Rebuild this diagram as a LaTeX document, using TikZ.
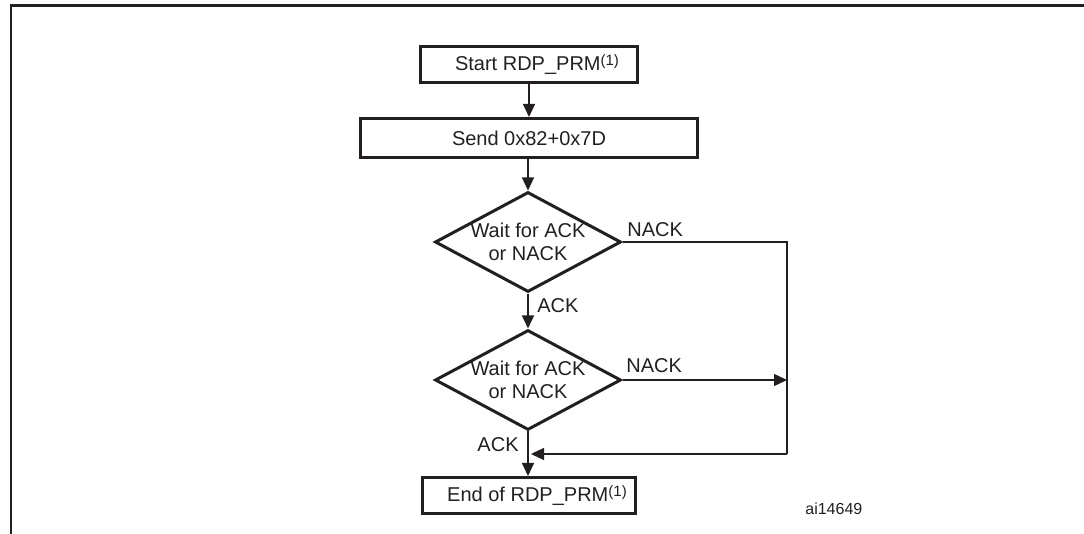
\documentclass[tikz,border=0pt]{standalone}
\usepackage{fontspec}
\setmainfont{Liberation Sans}
\usetikzlibrary{arrows.meta,shapes.geometric}
\definecolor{ink}{RGB}{35,31,32}
\newcommand{\supone}{\raisebox{2.8pt}{\fontsize{7.5pt}{9pt}\selectfont(1)}}
\tikzset{
  px/.style={x=0.5pt,y=-0.5pt},
  boxnode/.style={draw=ink,line width=1.5pt,inner sep=0pt,font=\fontsize{10pt}{12pt}\selectfont,text=ink},
  dia/.style={draw=ink,line width=1.5pt,shape=diamond,inner sep=0pt,minimum width=93pt,minimum height=50pt},
  diatext/.style={align=center,inner sep=0pt,font=\fontsize{10pt}{11.5pt}\selectfont,text=ink},
  lbl/.style={inner sep=0pt,font=\fontsize{10pt}{12pt}\selectfont,text=ink},
  conn/.style={draw=ink,line width=0.65pt},
  arr/.style={conn,-{Triangle[length=6.5pt,width=6pt]}},
}
\begin{document}
\begin{tikzpicture}[px]
\useasboundingbox (0,0) rectangle (1084,534);
% frame
\draw[ink,line width=1.1pt] (11,534) -- (11,5.5) -- (1084,5.5);
% nodes
\node[boxnode,minimum width=108.5pt,minimum height=18pt] (start) at (529,64.5) {\hspace*{8pt}Start RDP\_PRM\supone};
\node[boxnode,minimum width=168.5pt,minimum height=19.5pt] (send) at (529,138) {Send 0x82+0x7D};
\node[dia] (d1) at (528,242) {};
\node[diatext] (t1) at (d1) {Wait for ACK\\or NACK};
\node[dia] (d2) at (528,380) {};
\node[diatext] (t2) at (d2) {Wait for ACK\\or NACK};
\node[boxnode,minimum width=106.5pt,minimum height=18pt] (end) at (529,495.5) {\hspace*{8pt}End of RDP\_PRM\supone};
\coordinate (r1) at (787,242);
\coordinate (r2) at (787,454);
\coordinate (j) at (531,454);
% labels
\node[lbl,anchor=west] (n1) at (627,230) {NACK};
\node[lbl,anchor=west] (a1) at (537,306) {ACK};
\node[lbl,anchor=west] (n2) at (626,366) {NACK};
\node[lbl,anchor=east] (a2) at (519,445) {ACK};
\node[lbl,anchor=west,font=\fontsize{8pt}{10pt}\selectfont] (id) at (805,509) {ai14649};
% connectors
\draw[arr] (start) -- (send);
\draw[arr] (send.south -| d1) -- (d1);
\draw[arr] (d1) -- (d2);
\draw[arr] (d2) -- (end.north -| d2);
\draw[conn] (d1.east) -- (r1) -- (r2);
\draw[arr] (r2) -- (j);
\draw[arr] (d2.east) -- (d2.east -| r1);
\end{tikzpicture}
\end{document}
